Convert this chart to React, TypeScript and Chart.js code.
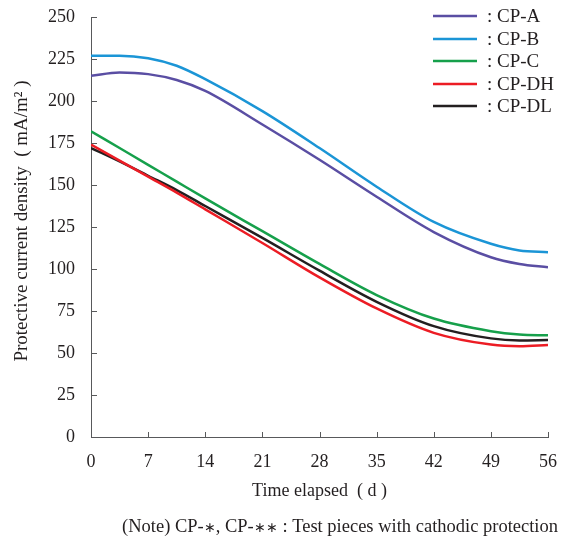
import React, { useEffect, useRef } from "react";
import { Chart, registerables } from "chart.js";

Chart.register(...registerables);

const days = [0, 3.5, 7, 10.5, 14, 21, 28, 35, 42, 49, 52.5, 56];
const cpA = [215, 217, 216, 212.5, 206, 186, 165, 143, 122, 107, 103, 101];
const cpB = [227, 227, 225.5, 221, 213, 194, 172, 149, 128, 115, 111, 110];
const cpC = [182, 172, 162, 152, 142, 122.5, 103, 84.5, 70.5, 63, 61, 60.5];
const cpDH = [174, 164.5, 155, 145.5, 135.5, 115.5, 95, 76.5, 62, 55, 54, 54.8];
const cpDL = [172, 164, 155.5, 147, 137.5, 118.5, 99, 80.5, 66, 58.7, 57.5, 57.7];

const seriesNames = ["CP-A", "CP-B", "CP-C", "CP-DH", "CP-DL"];
const seriesValues = [cpA, cpB, cpC, cpDH, cpDL];
const seriesColors = ["#5a4ea3", "#1b95d6", "#16a04b", "#ec1c24", "#231f20"];

const xTickValues = [0, 7, 14, 21, 28, 35, 42, 49, 56];
const yTickValues = [0, 25, 50, 75, 100, 125, 150, 175, 200, 225, 250];

const xTitle = "Time elapsed  ( d )";
const yTitle = "Protective current density  ( mA/m\u00B2 )";
// note text split so the asterisks can be drawn smaller
const noteParts = ["(Note) CP-", "\u2217", ", CP-", "\u2217\u2217", " : Test pieces with cathodic protection"];

const FONT = "'Liberation Serif', 'Times New Roman', serif";
const TEXT = "#231f20";
const AXIS = "#58595b";

const decorPlugin = {
  id: "decor",
  afterDraw(chart: any) {
    const ctx = chart.ctx as CanvasRenderingContext2D;
    const x = chart.scales.x;
    const y = chart.scales.y;
    const area = chart.chartArea;
    ctx.save();
    // inner tick marks
    ctx.strokeStyle = AXIS;
    ctx.lineWidth = 1;
    ctx.beginPath();
    for (const v of xTickValues) {
      const px = Math.round(x.getPixelForValue(v)) + 0.5;
      ctx.moveTo(px, area.bottom);
      ctx.lineTo(px, area.bottom - 5);
    }
    for (const v of yTickValues) {
      const py = Math.round(y.getPixelForValue(v)) + 0.5;
      ctx.moveTo(area.left, py);
      ctx.lineTo(area.left + 6, py);
    }
    ctx.stroke();

    ctx.fillStyle = TEXT;
    ctx.font = `18px ${FONT}`;
    ctx.textBaseline = "middle";
    // x title
    ctx.textAlign = "center";
    ctx.fillText(xTitle, (area.left + area.right) / 2, 491);
    // y title
    ctx.save();
    ctx.font = `19px ${FONT}`;
    ctx.translate(22, 221);
    ctx.rotate(-Math.PI / 2);
    ctx.fillText(yTitle, 0, 0);
    ctx.restore();

    // note (drawn in pieces; asterisks smaller)
    const textFont = `18.5px ${FONT}`;
    const starFont = `14px ${FONT}`;
    ctx.textAlign = "left";
    const widths = noteParts.map((p, i) => {
      ctx.font = i === 1 || i === 3 ? starFont : textFont;
      return ctx.measureText(p).width;
    });
    const total = widths.reduce((a, b) => a + b, 0);
    let nx = 558 - total;
    noteParts.forEach((p, i) => {
      const star = i === 1 || i === 3;
      ctx.font = star ? starFont : textFont;
      ctx.fillText(p, nx, star ? 528 : 527);
      nx += widths[i];
    });

    // legend
    const legendY = [16, 39, 61, 84, 106];
    ctx.font = `19px ${FONT}`;
    ctx.textAlign = "left";
    chart.data.datasets.forEach((ds: any, i: number) => {
      const ly = legendY[i];
      ctx.strokeStyle = ds.borderColor;
      ctx.lineWidth = 2.5;
      ctx.beginPath();
      ctx.moveTo(433, ly);
      ctx.lineTo(477, ly);
      ctx.stroke();
      ctx.fillStyle = TEXT;
      ctx.fillText(": " + ds.label, 487, ly + 1);
    });
    ctx.restore();
  },
};

export default function App() {
  const ref = useRef<HTMLCanvasElement | null>(null);

  useEffect(() => {
    if (!ref.current) return;
    const chart = new Chart(ref.current, {
      type: "line",
      data: {
        datasets: seriesNames.map((name, i) => ({
          label: name,
          data: days.map((d, j) => ({ x: d, y: seriesValues[i][j] })),
          borderColor: seriesColors[i],
          backgroundColor: seriesColors[i],
          borderWidth: 2.5,
          pointRadius: 0,
          fill: false,
          cubicInterpolationMode: "monotone" as const,
        })),
      },
      options: {
        responsive: false,
        animation: false,
        devicePixelRatio: 1,
        layout: { padding: { left: 0, right: 25, top: 17, bottom: 0 } },
        plugins: {
          legend: { display: false },
          tooltip: { enabled: false },
          title: { display: false },
        },
        scales: {
          x: {
            type: "linear",
            min: 0,
            max: 56,
            grid: { display: false, drawTicks: false },
            border: { display: true, color: AXIS, width: 1 },
            ticks: {
              stepSize: 7,
              padding: 14,
              color: TEXT,
              font: { family: FONT, size: 18 },
              maxRotation: 0,
            },
            afterFit: (s: any) => {
              s.height = 102;
              s.paddingLeft = 0;
              s.paddingRight = 0;
            },
          },
          y: {
            type: "linear",
            min: 0,
            max: 250,
            grid: { display: false, drawTicks: false },
            border: { display: true, color: AXIS, width: 1 },
            ticks: {
              stepSize: 25,
              padding: 16,
              color: TEXT,
              font: { family: FONT, size: 18 },
            },
            afterFit: (s: any) => {
              s.width = 91;
              s.paddingTop = 0;
              s.paddingBottom = 0;
            },
          },
        },
      },
      plugins: [decorPlugin],
    });
    return () => chart.destroy();
  }, []);

  return (
    <div style={{ position: "absolute", left: 0, top: 0, width: 573, height: 539 }}>
      <canvas ref={ref} width={573} height={539} style={{ display: "block" }} />
    </div>
  );
}
